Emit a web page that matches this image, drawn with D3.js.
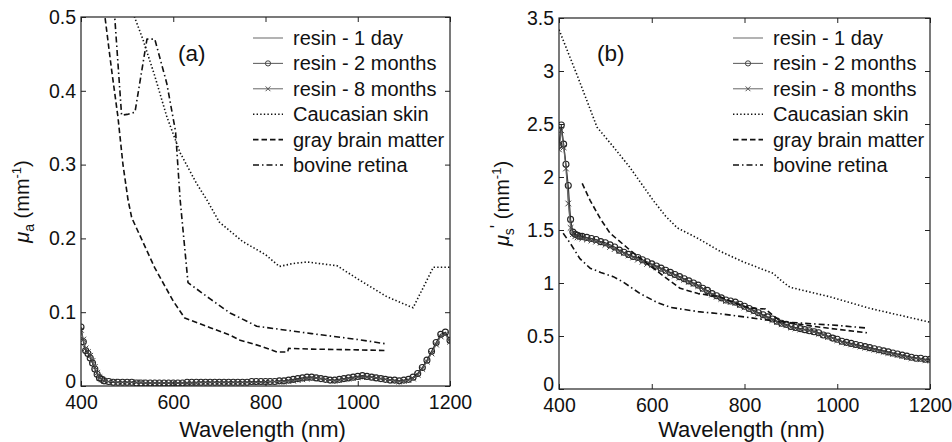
<!DOCTYPE html>
<html><head><meta charset="utf-8">
<script src="https://cdn.jsdelivr.net/npm/d3@7"></script>
<style>
body{margin:0;background:#fff;}
text{font-family:"Liberation Sans",Arial,Helvetica,sans-serif;fill:#111;}
</style>
</head><body>
<svg id="chart" width="952" height="442"></svg>
<script>
// ---------- shared wavelength grid of the resin measurements (nm) ----------
const resinWl = [400,405,410,415,420,425,430,435,440,445,450,
460,470,480,490,500,510,520,530,540,550,
560,570,580,590,600,610,620,630,640,650,
660,670,680,690,700,710,720,730,740,750,
760,770,780,790,800,810,820,830,840,850,
860,870,880,890,900,910,920,930,940,950,
960,970,980,990,1000,1010,1020,1030,1040,1050,
1060,1070,1080,1090,1100,1110,1120,1130,1140,1150,
1160,1170,1180,1190,1200];

// ---------- panel (a): absorption coefficient mu_a (mm^-1) ----------
const resin1dayA = [0.078,0.062,0.050,0.045,0.040,0.033,0.025,0.017,0.012,0.009,0.007,
0.006,0.005,0.005,0.005,0.005,0.005,0.005,0.004,0.004,0.004,
0.004,0.004,0.004,0.004,0.004,0.004,0.004,0.004,0.004,0.005,
0.005,0.005,0.005,0.005,0.005,0.005,0.005,0.005,0.005,0.005,
0.005,0.005,0.005,0.006,0.006,0.006,0.006,0.006,0.007,0.007,
0.008,0.009,0.010,0.011,0.012,0.011,0.010,0.009,0.008,0.008,
0.008,0.009,0.010,0.011,0.012,0.013,0.013,0.012,0.011,0.010,
0.009,0.008,0.007,0.007,0.007,0.008,0.011,0.016,0.024,0.034,
0.045,0.057,0.068,0.071,0.058];
const resin2monA = [0.080,0.060,0.048,0.044,0.038,0.031,0.023,0.016,0.011,0.009,0.007,
0.006,0.005,0.005,0.005,0.005,0.005,0.004,0.004,0.004,0.004,
0.004,0.004,0.004,0.004,0.004,0.004,0.004,0.005,0.005,0.005,
0.005,0.005,0.005,0.005,0.005,0.005,0.005,0.005,0.005,0.005,
0.005,0.006,0.006,0.006,0.006,0.006,0.006,0.007,0.007,0.008,
0.009,0.010,0.011,0.012,0.012,0.011,0.010,0.009,0.008,0.008,
0.009,0.010,0.011,0.012,0.013,0.014,0.013,0.012,0.011,0.010,
0.009,0.008,0.008,0.007,0.008,0.009,0.012,0.017,0.025,0.035,
0.047,0.059,0.070,0.073,0.062];
const resin8monA = [0.076,0.063,0.051,0.046,0.041,0.034,0.026,0.018,0.012,0.009,0.007,
0.006,0.006,0.005,0.005,0.005,0.005,0.005,0.005,0.004,0.004,
0.004,0.004,0.004,0.004,0.004,0.004,0.004,0.004,0.004,0.004,
0.005,0.005,0.005,0.005,0.005,0.005,0.005,0.005,0.005,0.005,
0.005,0.005,0.005,0.005,0.006,0.006,0.006,0.006,0.006,0.007,
0.007,0.008,0.009,0.010,0.011,0.011,0.010,0.009,0.008,0.007,
0.008,0.009,0.010,0.011,0.012,0.012,0.012,0.012,0.011,0.010,
0.009,0.008,0.007,0.006,0.007,0.008,0.010,0.015,0.023,0.033,
0.044,0.056,0.067,0.070,0.060];

const skinWlA = [510,534,560,586,615,650,673,700,750,800,830,860,890,955,1000,1063,1120,1164,1200];
const skinA   = [0.51,0.47,0.42,0.365,0.316,0.275,0.252,0.222,0.196,0.178,0.162,0.166,0.168,0.163,0.145,0.121,0.106,0.161,0.161];
const grayWlA = [450,466,480,491,502,510,560,600,625,680,723,745,790,825,848,850,900,1000,1063];
const grayA   = [0.51,0.43,0.365,0.30,0.252,0.228,0.16,0.115,0.092,0.079,0.069,0.062,0.054,0.046,0.046,0.051,0.050,0.049,0.048];
const bovWlA  = [472,488,500,517,543,560,586,605,615,632,680,723,781,900,1000,1063];
const bovA    = [0.51,0.367,0.368,0.371,0.47,0.47,0.41,0.345,0.252,0.14,0.118,0.099,0.081,0.071,0.063,0.057];

// ---------- panel (b): reduced scattering coefficient mu_s' (mm^-1) ----------
const resin1dayB = [2.28,2.47,2.30,2.10,1.80,1.55,1.47,1.45,1.44,1.44,1.43,
1.42,1.41,1.40,1.39,1.37,1.35,1.33,1.31,1.28,1.26,
1.25,1.23,1.21,1.19,1.17,1.16,1.14,1.12,1.10,1.08,
1.06,1.04,1.02,1.00,0.98,0.95,0.92,0.89,0.87,0.85,
0.84,0.83,0.81,0.80,0.78,0.76,0.74,0.72,0.70,0.68,
0.66,0.64,0.62,0.60,0.59,0.58,0.57,0.56,0.56,0.55,
0.53,0.52,0.50,0.48,0.46,0.45,0.44,0.43,0.42,0.41,
0.40,0.39,0.38,0.37,0.36,0.35,0.34,0.33,0.32,0.31,
0.30,0.29,0.28,0.28,0.28];
const resin2monB = [2.30,2.49,2.31,2.12,1.92,1.60,1.48,1.46,1.45,1.44,1.44,
1.43,1.42,1.41,1.39,1.38,1.36,1.34,1.31,1.29,1.27,
1.25,1.24,1.22,1.20,1.18,1.16,1.14,1.12,1.10,1.08,
1.06,1.04,1.02,1.00,0.98,0.95,0.93,0.90,0.88,0.86,
0.84,0.83,0.82,0.80,0.78,0.76,0.74,0.72,0.70,0.68,
0.66,0.64,0.62,0.61,0.59,0.58,0.57,0.56,0.55,0.54,
0.53,0.51,0.50,0.48,0.47,0.45,0.44,0.43,0.42,0.41,
0.40,0.39,0.38,0.37,0.36,0.35,0.34,0.33,0.32,0.31,
0.30,0.29,0.29,0.28,0.28];
const resin8monB = [2.26,2.44,2.28,2.08,1.75,1.52,1.46,1.44,1.43,1.43,1.42,
1.41,1.40,1.39,1.38,1.36,1.34,1.32,1.30,1.28,1.26,
1.24,1.22,1.20,1.18,1.17,1.15,1.13,1.11,1.09,1.07,
1.05,1.03,1.01,0.99,0.97,0.94,0.92,0.89,0.87,0.85,
0.83,0.82,0.81,0.79,0.77,0.75,0.73,0.71,0.69,0.67,
0.65,0.63,0.61,0.60,0.58,0.57,0.56,0.56,0.55,0.54,
0.52,0.51,0.49,0.48,0.46,0.44,0.43,0.42,0.41,0.40,
0.39,0.38,0.37,0.36,0.35,0.34,0.33,0.32,0.31,0.30,
0.29,0.29,0.28,0.27,0.27];

const skinWlB = [400,440,482,520,553,603,630,655,700,747,797,862,880,898,984,1071,1200];
const skinB   = [3.39,2.95,2.47,2.27,2.09,1.78,1.63,1.52,1.42,1.30,1.20,1.09,1.02,0.96,0.87,0.76,0.63];
const grayWlB = [450,467,490,510,553,618,661,700,747,797,820,845,860,877,950,1064];
const grayB   = [1.94,1.78,1.60,1.47,1.31,1.09,0.95,0.90,0.87,0.78,0.76,0.755,0.70,0.64,0.59,0.53];
const bovWlB  = [409,425,445,467,490,517,538,575,610,640,700,747,800,875,1000,1064];
const bovB    = [1.47,1.37,1.23,1.14,1.10,1.06,1.01,0.90,0.82,0.77,0.73,0.71,0.68,0.635,0.60,0.575];

// ---------- axis ticks & legend ----------
const xTicks  = [400,600,800,1000,1200];
const yTicksA = [0,0.1,0.2,0.3,0.4,0.5];
const yTicksB = [0,0.5,1,1.5,2,2.5,3,3.5];
const legendLabels = ["resin - 1 day","resin - 2 months","resin - 8 months","Caucasian skin","gray brain matter","bovine retina"];

const svg = d3.select("#chart");

const styles = [
  {stroke:"#8a8a8a", width:1.3, dash:null, marker:null},
  {stroke:"#333", width:1.1, dash:null, marker:"circle"},
  {stroke:"#666", width:1.0, dash:null, marker:"x"},
  {stroke:"#111", width:1.6, dash:"1.4,2.2", marker:null},
  {stroke:"#111", width:1.6, dash:"5.5,3", marker:null},
  {stroke:"#111", width:1.6, dash:"6,3,1.5,3", marker:null}
];

function drawMarkers(g, pts, type, big) {
  if (type === "circle") {
    g.selectAll("circle.m").data(pts).join("circle").attr("class","m")
      .attr("cx", d => d[0]).attr("cy", d => d[1]).attr("r", big ? 3 : 2.6)
      .attr("fill","none").attr("stroke", big ? "#222" : "#444").attr("stroke-width", big ? 1.1 : 1.0);
  } else if (type === "x") {
    const s = big ? 2.8 : 2.4;
    g.selectAll("path.m").data(pts).join("path").attr("class","m")
      .attr("d", d => `M${d[0]-s},${d[1]-s}L${d[0]+s},${d[1]+s}M${d[0]-s},${d[1]+s}L${d[0]+s},${d[1]-s}`)
      .attr("stroke", big ? "#444" : "#555").attr("stroke-width",1.0).attr("fill","none");
  }
}

function panel(o) {
  const x = d3.scaleLinear().domain([400,1200]).range([o.left,o.right]);
  const y = d3.scaleLinear().domain(o.yDomain).range([o.bottom,o.top]);
  const g = svg.append("g");
  const clipId = "clip" + o.id;
  svg.append("clipPath").attr("id", clipId).append("rect")
    .attr("x", o.left).attr("y", o.top).attr("width", o.right - o.left).attr("height", o.bottom - o.top);
  const plot = g.append("g").attr("clip-path", `url(#${clipId})`);
  const line = d3.line().x(d => x(d[0])).y(d => y(d[1]));
  o.series.forEach((s, i) => {
    const st = styles[i];
    const pts = s.wl.map((w, k) => [w, s.v[k]]);
    const sg = plot.append("g");
    sg.append("path").attr("d", line(pts)).attr("fill","none")
      .attr("stroke", st.stroke).attr("stroke-width", st.width)
      .attr("stroke-dasharray", st.dash).attr("stroke-linejoin","round");
    if (st.marker) drawMarkers(sg, pts.map(p => [x(p[0]), y(p[1])]), st.marker, true);
  });

  // axes (ticks inside, box)
  const ax = g.append("g").attr("transform", `translate(0,${o.bottom})`)
    .call(d3.axisBottom(x).tickValues(xTicks).tickSize(-5).tickSizeOuter(0).tickPadding(9).tickFormat(d3.format("d")));
  const ay = g.append("g").attr("transform", `translate(${o.left},0)`)
    .call(d3.axisLeft(y).tickValues(o.yTicks).tickSize(-5).tickSizeOuter(0).tickPadding(5).tickFormat(d => String(d)));
  const axT = g.append("g").attr("transform", `translate(0,${o.top})`)
    .call(d3.axisTop(x).tickValues(xTicks).tickSize(-5).tickSizeOuter(0).tickFormat(""));
  const ayR = g.append("g").attr("transform", `translate(${o.right},0)`)
    .call(d3.axisRight(y).tickValues(o.yTicks).tickSize(-5).tickSizeOuter(0).tickFormat(""));
  [ax, ay, axT, ayR].forEach(a => {
    a.select(".domain").remove();
    a.selectAll("line").attr("stroke","#222");
    a.selectAll("text").attr("font-size", 19.5).attr("fill","#111")
      .style("font-family", '"Liberation Sans",Arial,sans-serif');
  });
  // nudge the y "0" label up slightly so it clears the x "400" label
  ay.selectAll(".tick").filter(d => d === 0).select("text").attr("dy", "0.1em");
  g.append("rect").attr("x", o.left).attr("y", o.top)
    .attr("width", o.right - o.left).attr("height", o.bottom - o.top)
    .attr("fill","none").attr("stroke","#222").attr("stroke-width",1.2);

  // panel tag
  g.append("text").attr("x", o.tagX).attr("y", 61).attr("font-size", 22.5).text(o.tag);

  // legend
  const lg = g.append("g");
  legendLabels.forEach((lab, i) => {
    const yy = 38 + i * 25.4;
    const st = styles[i];
    lg.append("line").attr("x1", o.legX).attr("x2", o.legX + 30).attr("y1", yy).attr("y2", yy)
      .attr("stroke", i === 1 ? "#666" : st.stroke).attr("stroke-width", st.width).attr("stroke-dasharray", st.dash);
    if (st.marker) drawMarkers(lg.append("g"), [[o.legX + 15, yy]], st.marker, false);
    lg.append("text").attr("x", o.legX + 40).attr("y", yy + 7).attr("font-size", 20).text(lab);
  });

  // x label
  g.append("text").attr("x", (o.left + o.right) / 2 - 3).attr("y", 437)
    .attr("text-anchor","middle").attr("font-size", 22).text("Wavelength (nm)");

  // y label
  const yl = g.append("text").attr("transform", `translate(${o.yLabX},${(o.top + o.bottom) / 2}) rotate(-90)`)
    .attr("text-anchor","middle").attr("font-size", 20);
  yl.append("tspan").attr("font-style","italic").text("μ");
  yl.append("tspan").attr("font-size", 14).attr("dy", 5).text(o.sub);
  if (o.prime) yl.append("tspan").attr("font-size", 18).attr("dy", -11).text("'");
  yl.append("tspan").attr("dy", o.prime ? 6 : -5).text(" (mm");
  yl.append("tspan").attr("font-size", 13).attr("dy", -8).text("-1");
  yl.append("tspan").attr("dy", 8).text(")");
}

panel({id:"a", left:81, right:450, top:17, bottom:386, yDomain:[0,0.5], yTicks:yTicksA,
  tag:"(a)", tagX:178, legX:253, yLabX:29, sub:"a", prime:false,
  series:[
    {wl:resinWl, v:resin1dayA},{wl:resinWl, v:resin2monA},{wl:resinWl, v:resin8monA},
    {wl:skinWlA, v:skinA},{wl:grayWlA, v:grayA},{wl:bovWlA, v:bovA}]});

panel({id:"b", left:559, right:930, top:18, bottom:389, yDomain:[0,3.5], yTicks:yTicksB,
  tag:"(b)", tagX:597, legX:733, yLabX:509, sub:"s", prime:true,
  series:[
    {wl:resinWl, v:resin1dayB},{wl:resinWl, v:resin2monB},{wl:resinWl, v:resin8monB},
    {wl:skinWlB, v:skinB},{wl:grayWlB, v:grayB},{wl:bovWlB, v:bovB}]});
</script>
</body></html>
